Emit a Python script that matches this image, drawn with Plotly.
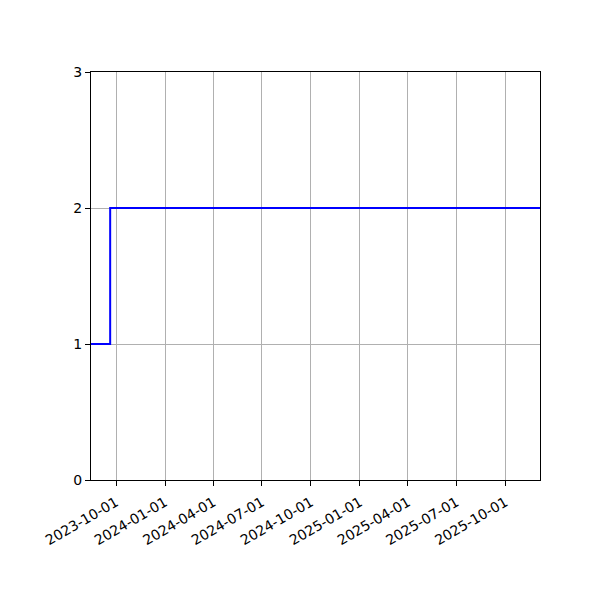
import plotly.graph_objects as go

# step series
dates = ['2023-08-15', '2023-09-20', '2025-12-05']
values = [1, 2, 2]

tick_dates = ['2023-10-01', '2024-01-01', '2024-04-01', '2024-07-01', '2024-10-01',
              '2025-01-01', '2025-04-01', '2025-07-01', '2025-10-01']
y_ticks = [0, 1, 2, 3]

fig = go.Figure()
fig.add_trace(go.Scatter(
    x=dates, y=values, mode='lines',
    line=dict(color='blue', width=2, shape='hv'),
    showlegend=False,
))

axis_common = dict(
    showline=True, linecolor='black', linewidth=1.1, mirror=True,
    ticks='outside', ticklen=5, tickwidth=1.1, tickcolor='black',
    showgrid=True, gridcolor='#b0b0b0', gridwidth=1.1,
    zeroline=False,
    tickfont=dict(family='DejaVu Sans', size=14, color='black'),
)

fig.update_xaxes(
    range=[dates[0], dates[-1]],
    tickmode='array', tickvals=tick_dates, ticktext=tick_dates,
    tickangle=-30, ticklabelstandoff=3,
    **axis_common,
)
fig.update_yaxes(
    range=[0, 3],
    tickmode='array', tickvals=y_ticks,
    **axis_common,
)

# page body adds ~8px offset, so margins are shifted to compensate
fig.update_layout(
    width=600, height=600,
    margin=dict(l=83, r=68, t=64, b=128),
    plot_bgcolor='white', paper_bgcolor='white',
)

fig.write_html("out.html")
